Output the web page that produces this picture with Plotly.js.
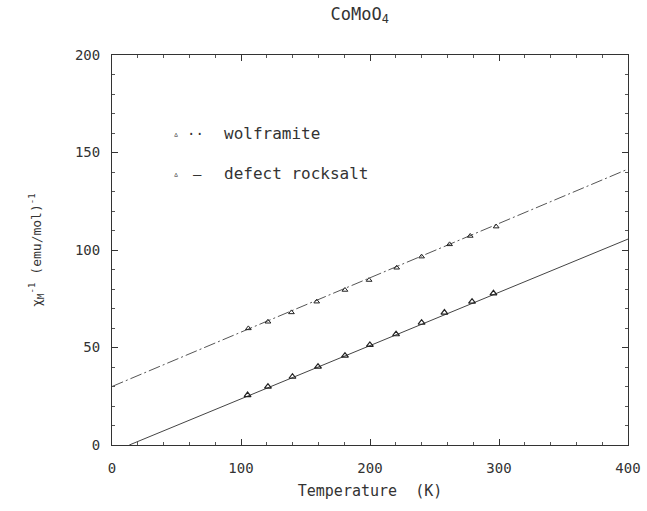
<!DOCTYPE html>
<html><head><meta charset="utf-8">
<script src="https://cdn.plot.ly/plotly-3.0.1.min.js"></script>
<style>html,body{margin:0;padding:0;background:#fff;}#chart{width:647px;height:511px;}</style>
</head><body><div id="chart"></div>
<script>
// Data
const wolfT = [105.7, 120.9, 139.1, 158.7, 180.6, 199.3, 220.7, 240.0, 261.7, 277.7, 297.8];
const wolfChi = [59.8, 63.2, 68.0, 73.5, 79.5, 84.6, 90.9, 96.6, 102.9, 107.2, 112.0];
const wolfFitT = [0, 400];
const wolfFitChi = [30.0, 141.5];

const rockT = [105.1, 120.9, 139.9, 159.7, 180.6, 199.9, 220.2, 240.0, 257.7, 279.1, 295.7];
const rockChi = [25.6, 29.9, 35.0, 40.2, 45.8, 51.3, 56.8, 62.7, 67.9, 73.5, 77.8];
const rockFitT = [13.4, 400];
const rockFitChi = [0, 105.6];

const xTicks = [0, 100, 200, 300, 400];
const yTicks = [0, 50, 100, 150, 200];

const FONT = "DejaVu Sans Mono, monospace";
const INK = "#333";

const traces = [
  {x: wolfFitT, y: wolfFitChi, mode: "lines", line: {color: "#555", width: 1, dash: "12px,3px,2px,3px"}, hoverinfo: "skip"},
  {x: rockFitT, y: rockFitChi, mode: "lines", line: {color: "#444", width: 1}, hoverinfo: "skip"},
  {x: wolfT, y: wolfChi, mode: "markers", marker: {symbol: "triangle-up-open", size: 5, color: "#222", line: {width: 1, color: "#222"}}},
  {x: rockT, y: rockChi, mode: "markers", marker: {symbol: "triangle-up-open", size: 6, color: "#222", line: {width: 1.2, color: "#222"}}}
];

const axisCommon = {
  showgrid: false, zeroline: false, showline: true, linecolor: "#333", linewidth: 1,
  mirror: "allticks", ticks: "inside", ticklen: 6, tickcolor: "#333", tickwidth: 1,
  tickfont: {family: FONT, size: 14, color: INK},
  minor: {ticks: "inside", ticklen: 3, tickcolor: "#555", tickwidth: 1}
};

const layout = {
  width: 647, height: 511,
  margin: {l: 112, r: 19, t: 55, b: 66},
  paper_bgcolor: "#fff", plot_bgcolor: "#fff",
  showlegend: false,
  title: {text: "CoMoO<sub>4</sub>", font: {family: FONT, size: 17, color: INK}, x: 0.556, xanchor: "center", y: 0.985, yanchor: "top"},
  xaxis: Object.assign({}, axisCommon, {
    range: [0, 400], tickvals: xTicks, ticktext: xTicks.map(String), ticklabelstandoff: 10,
    minor: Object.assign({}, axisCommon.minor, {dtick: 20, tick0: 0}),
    title: {text: "Temperature  (K)", font: {family: FONT, size: 15, color: INK}, standoff: 10}
  }),
  yaxis: Object.assign({}, axisCommon, {
    range: [0, 200], tickvals: yTicks, ticktext: yTicks.map(String), ticklabelstandoff: 8,
    minor: Object.assign({}, axisCommon.minor, {dtick: 10, tick0: 0}),
    title: {text: "χ<sub>M</sub><sup>-1</sup> (emu/mol)<sup>-1</sup>", font: {family: FONT, size: 13, color: INK}, standoff: 30}
  }),
  annotations: [
    {x: 49.6, y: 160, xref: "x", yref: "y", text: "▵", showarrow: false, font: {family: FONT, size: 10, color: "#222"}},
    {x: 65, y: 159.5, xref: "x", yref: "y", text: "··", showarrow: false, font: {family: FONT, size: 14, color: INK}},
    {x: 85, y: 159.5, xref: "x", yref: "y", xanchor: "left", text: "wolframite", showarrow: false, font: {family: FONT, size: 16, color: INK}},
    {x: 49.6, y: 139, xref: "x", yref: "y", text: "▵", showarrow: false, font: {family: FONT, size: 10, color: "#222"}},
    {x: 66, y: 139, xref: "x", yref: "y", text: "–", showarrow: false, font: {family: FONT, size: 14, color: INK}},
    {x: 85, y: 139, xref: "x", yref: "y", xanchor: "left", text: "defect rocksalt", showarrow: false, font: {family: FONT, size: 16, color: INK}}
  ]
};

Plotly.newPlot("chart", traces, layout, {displayModeBar: false, staticPlot: true});
</script></body></html>
